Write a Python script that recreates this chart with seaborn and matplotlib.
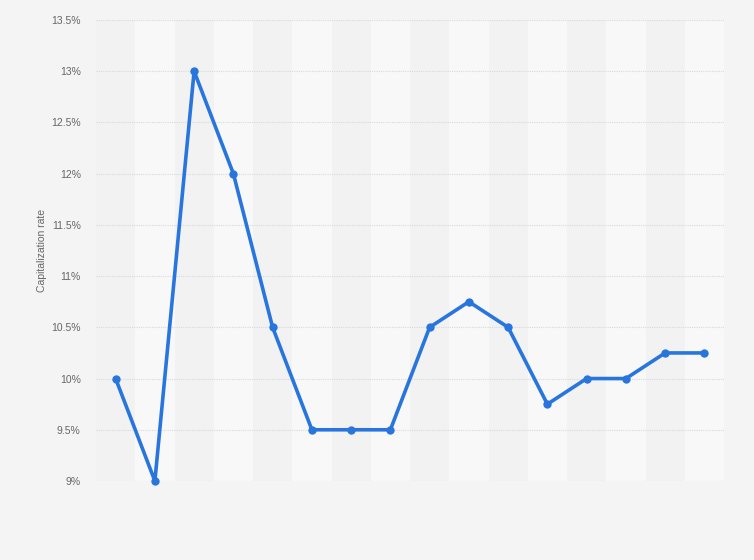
import numpy as np
import pandas as pd
import matplotlib
matplotlib.use("Agg")
import matplotlib.pyplot as plt
import seaborn as sns
from matplotlib.ticker import FuncFormatter

# one point per period; the source chart shows no x labels
periods = list(range(16))
cap_rate = [10, 9, 13, 12, 10.5, 9.5, 9.5, 9.5, 10.5, 10.75, 10.5, 9.75, 10, 10, 10.25, 10.25]
y_ticks = [9, 9.5, 10, 10.5, 11, 11.5, 12, 12.5, 13, 13.5]

BG = "#f4f4f4"
BAND_DARK = "#f2f2f2"
BAND_LIGHT = "#f8f8f8"
BLUE = "#2876dd"

sns.set_style("white")
plt.rcParams["font.family"] = ["Liberation Sans", "DejaVu Sans"]

df = pd.DataFrame({"period": periods, "rate": cap_rate})

fig = plt.figure(figsize=(7.54, 5.6), dpi=100, facecolor=BG)
ax = fig.add_axes([96 / 754, 1 - 481 / 560, (724 - 96) / 754, (481 - 20) / 560])
ax.set_facecolor(BG)

# alternating column bands
for i, p in enumerate(periods):
    ax.axvspan(p - 0.5, p + 0.5, color=BAND_DARK if i % 2 == 0 else BAND_LIGHT, lw=0, zorder=0)

sns.lineplot(data=df, x="period", y="rate", ax=ax, color=BLUE, lw=2.6,
             marker="o", markersize=6, markeredgewidth=0, zorder=3, clip_on=False)

ax.set_xlim(periods[0] - 0.5, periods[-1] + 0.5)
ax.set_ylim(y_ticks[0], y_ticks[-1])
ax.set_yticks(y_ticks)
ax.yaxis.set_major_formatter(FuncFormatter(lambda v, _: f"{v:g}%"))
ax.set_xticks([])
ax.grid(axis="y", color="#d9d9d9", linestyle=(0, (1, 1)), lw=0.8, zorder=1)
ax.set_axisbelow(True)
for s in ax.spines.values():
    s.set_visible(False)
ax.tick_params(axis="y", length=0, pad=11, labelsize=7.5, labelcolor="#666666")
ax.set_xlabel("")
ax.set_ylabel("Capitalization rate", fontsize=7.5, color="#666666", labelpad=3)

fig.savefig("out.png", dpi=100, facecolor=BG)
